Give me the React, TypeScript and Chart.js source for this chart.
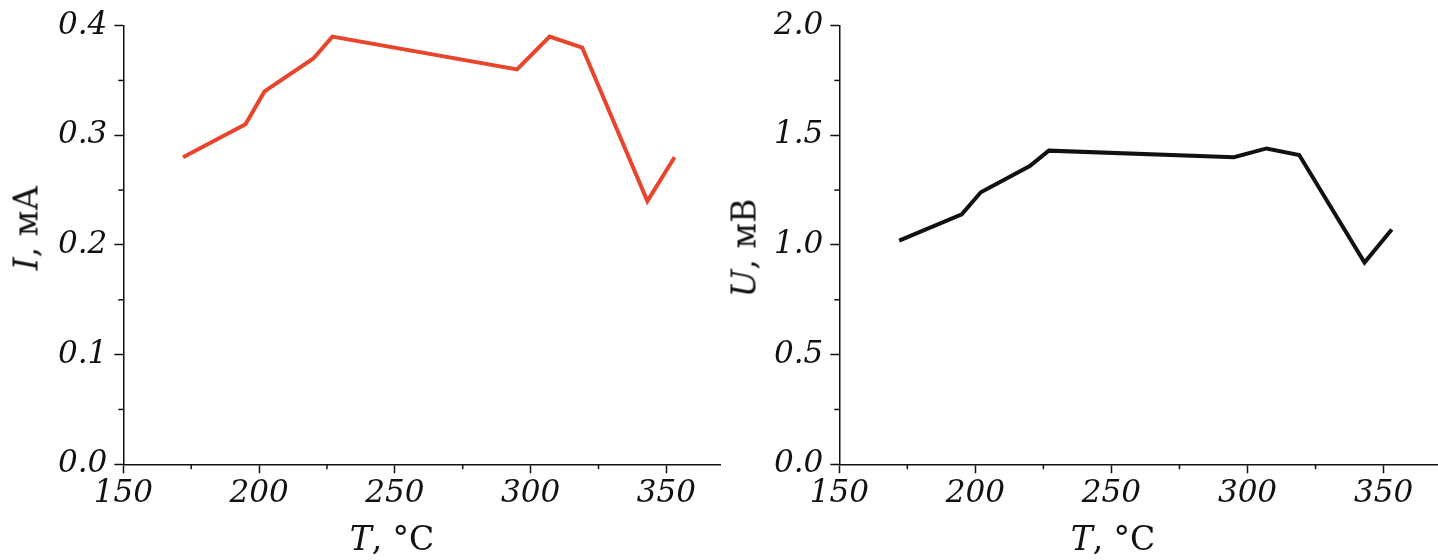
import React, { useEffect, useRef } from 'react';
import { Chart, registerables } from 'chart.js';

Chart.register(...registerables);

// ---- data ----
const TEMPERATURE_C = [172, 195, 202, 220, 227, 295, 307, 319, 343, 353];
const CURRENT_MA = [0.28, 0.31, 0.34, 0.37, 0.39, 0.36, 0.39, 0.38, 0.24, 0.28];
const VOLTAGE_MV = [1.02, 1.14, 1.24, 1.36, 1.43, 1.40, 1.44, 1.41, 0.92, 1.07];

const T_AXIS = [150, 370, 50]; // min, max, step
const I_AXIS = [0, 0.4, 0.1];
const U_AXIS = [0, 2.0, 0.5];

const FONT_FAMILY = '"DejaVu Serif", "Liberation Serif", serif';
const INK = '#111111';

const minorTicksPlugin = {
  id: 'minorTicks',
  afterDraw(chart: any) {
    const ctx = chart.ctx;
    const xs = chart.scales.x;
    const ys = chart.scales.y;
    const mids = (scale: any) => {
      const vals = scale.ticks.map((t: any) => t.value);
      if (vals.length < 2) return [];
      const step = vals[1] - vals[0];
      const out: number[] = [];
      for (const v of vals) {
        const m = v + step / 2;
        if (m <= scale.max + 1e-9) out.push(m);
      }
      return out;
    };
    ctx.save();
    ctx.strokeStyle = INK;
    ctx.lineWidth = 1.5;
    for (const v of mids(xs)) {
      const px = xs.getPixelForValue(v);
      ctx.beginPath();
      ctx.moveTo(px, xs.top);
      ctx.lineTo(px, xs.top + 5);
      ctx.stroke();
    }
    for (const v of mids(ys)) {
      const py = ys.getPixelForValue(v);
      ctx.beginPath();
      ctx.moveTo(ys.right, py);
      ctx.lineTo(ys.right - 5, py);
      ctx.stroke();
    }
    ctx.restore();
  },
};

type PanelProps = {
  values: number[];
  yAxis: number[];
  color: string;
  width: number;
  yAxisWidth: number;
  padRight: number;
};

function Panel({ values, yAxis, color, width, yAxisWidth, padRight }: PanelProps) {
  const ref = useRef<HTMLCanvasElement | null>(null);
  useEffect(() => {
    if (!ref.current) return;
    const tickFont = { family: FONT_FAMILY, style: 'italic' as const, size: 31 };
    const chart = new Chart(ref.current, {
      type: 'line',
      data: {
        datasets: [
          {
            data: TEMPERATURE_C.map((t, i) => ({ x: t, y: values[i] })),
            borderColor: color,
            borderWidth: 4,
            pointRadius: 0,
            tension: 0,
            fill: false,
          },
        ],
      },
      options: {
        animation: false,
        responsive: false,
        devicePixelRatio: 1,
        layout: { padding: { left: 0, right: padRight, top: 25.3, bottom: 0 } },
        plugins: { legend: { display: false }, tooltip: { enabled: false } },
        scales: {
          x: {
            type: 'linear',
            min: T_AXIS[0],
            max: T_AXIS[1],
            afterFit: (s: any) => {
              s.height = 95.7;
            },
            ticks: {
              stepSize: T_AXIS[2],
              includeBounds: false,
              font: tickFont,
              color: INK,
              padding: 2,
              maxRotation: 0,
              callback: (v: any) => String(v),
            },
            grid: {
              display: true,
              drawOnChartArea: false,
              drawTicks: true,
              tickLength: 9,
              tickColor: INK,
              tickWidth: 1.5,
            },
            border: { display: true, color: INK, width: 1.5 },
          },
          y: {
            type: 'linear',
            min: yAxis[0],
            max: yAxis[1],
            afterFit: (s: any) => {
              s.width = yAxisWidth;
            },
            ticks: {
              stepSize: yAxis[2],
              includeBounds: false,
              font: tickFont,
              color: INK,
              padding: 7,
              callback: (v: any) => Number(v).toFixed(1),
            },
            grid: {
              display: true,
              drawOnChartArea: false,
              drawTicks: true,
              tickLength: 9,
              tickColor: INK,
              tickWidth: 1.5,
            },
            border: { display: true, color: INK, width: 1.5 },
          },
        },
      },
      plugins: [minorTicksPlugin],
    });
    return () => chart.destroy();
  }, [values, yAxis, color, width, yAxisWidth, padRight]);
  return <canvas ref={ref} width={width} height={560} style={{ width, height: 560, display: 'block' }} />;
}

const titleStyle: React.CSSProperties = {
  position: 'absolute',
  fontFamily: FONT_FAMILY,
  fontSize: 33,
  lineHeight: '33px',
  color: INK,
  whiteSpace: 'nowrap',
};

export default function App() {
  return (
    <div style={{ position: 'fixed', left: 0, top: 0, width: 1438, height: 560, background: '#fff', overflow: 'hidden' }}>
      <div style={{ position: 'absolute', left: 0, top: 0 }}>
        <Panel values={CURRENT_MA} yAxis={I_AXIS} color="#e9452c" width={730} yAxisWidth={123.3} padRight={9.3} />
      </div>
      <div style={{ position: 'absolute', left: 720, top: 0 }}>
        <Panel values={VOLTAGE_MV} yAxis={U_AXIS} color="#111111" width={718} yAxisWidth={119.3} padRight={0} />
      </div>
      {/* x-axis titles */}
      <div style={{ ...titleStyle, left: 392, top: 522, transform: 'translateX(-50%)' }}>
        <i>T</i>, °C
      </div>
      <div style={{ ...titleStyle, left: 1113, top: 522, transform: 'translateX(-50%)' }}>
        <i>T</i>, °C
      </div>
      {/* y-axis titles */}
      <div style={{ ...titleStyle, left: 25.6, top: 228, transform: 'translate(-50%, -50%) rotate(-90deg)' }}>
        <i>I</i>, мА
      </div>
      <div style={{ ...titleStyle, left: 744, top: 248, transform: 'translate(-50%, -50%) rotate(-90deg)' }}>
        <i>U</i>, мВ
      </div>
    </div>
  );
}
